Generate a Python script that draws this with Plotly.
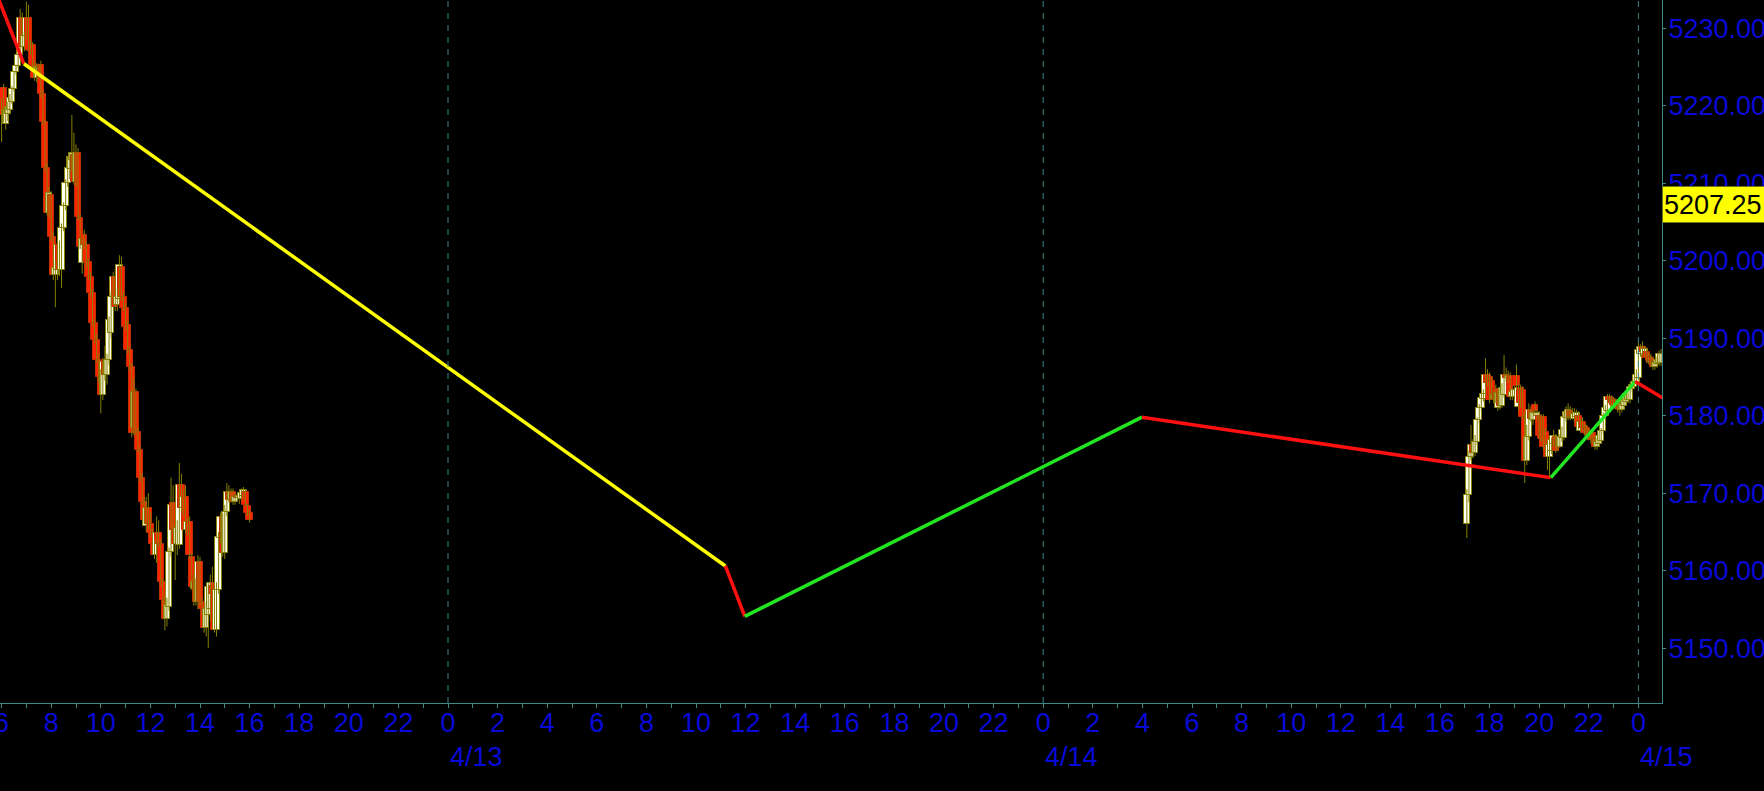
import numpy as np
import pandas as pd
import plotly.graph_objects as go

# ---------------- Friday 4/12 session (5-min bars, 06:00 - 16:00) ----------------
fri_open = [5219.8, 5222.3, 5217.6, 5218.9, 5219.4, 5220.5, 5222.1, 5224.3, 5225.1, 5226.5,
            5231.3, 5227.6, 5229.0, 5231.3, 5227.2, 5227.8, 5225.2, 5223.6, 5224.2, 5225.2,
            5221.5, 5217.9, 5212.0, 5206.2, 5208.5, 5203.0, 5198.1, 5198.8, 5202.0, 5198.8,
            5204.2, 5207.0, 5210.0, 5211.8, 5213.0, 5213.6, 5210.1, 5213.9, 5205.5, 5199.7,
            5203.3, 5202.0, 5199.8, 5197.9, 5195.8, 5192.0, 5189.8, 5187.2, 5185.0, 5182.6,
            5186.9, 5185.2, 5187.2, 5190.6, 5195.3, 5197.9, 5194.3, 5195.0, 5199.2, 5195.3,
            5193.9, 5191.7, 5188.5, 5186.3, 5178.4, 5183.0, 5177.9, 5175.6, 5172.0, 5168.9,
            5165.8, 5168.1, 5166.0, 5164.8, 5163.4, 5162.0, 5164.8, 5163.5, 5158.5, 5156.2,
            5153.7, 5155.3, 5162.4, 5168.7, 5165.4, 5163.5, 5163.3, 5171.0, 5168.1, 5169.5,
            5165.2, 5166.3, 5161.8, 5157.6, 5158.5, 5155.9, 5161.1, 5156.0, 5155.0, 5152.6,
            5154.3, 5155.0, 5158.0, 5158.4, 5152.3, 5157.5, 5164.2, 5166.9, 5162.3, 5167.6,
            5170.2, 5169.1, 5170.2, 5168.9, 5169.6, 5169.4, 5169.3, 5169.6, 5170.2, 5168.3,
            5167.4]
fri_high = [5221.0, 5222.8, 5219.8, 5220.5, 5221.5, 5222.5, 5224.5, 5225.3, 5226.8, 5232.5,
            5232.0, 5229.5, 5233.4, 5233.0, 5228.5, 5228.2, 5225.8, 5225.5, 5225.4, 5225.8,
            5222.0, 5218.2, 5212.6, 5209.5, 5209.0, 5203.8, 5200.0, 5202.5, 5202.6, 5204.8,
            5207.5, 5210.5, 5213.5, 5214.0, 5218.8, 5216.5, 5215.0, 5214.5, 5206.0, 5203.0,
            5204.0, 5202.5, 5200.3, 5198.5, 5196.3, 5192.5, 5190.5, 5188.0, 5186.0, 5187.5,
            5189.0, 5188.0, 5192.8, 5196.0, 5198.5, 5199.0, 5196.5, 5200.7, 5200.5, 5196.0,
            5194.5, 5192.3, 5189.0, 5186.8, 5184.8, 5183.5, 5178.5, 5176.0, 5172.6, 5169.5,
            5169.5, 5170.0, 5167.5, 5165.5, 5164.0, 5167.0, 5166.5, 5164.0, 5159.0, 5156.8,
            5156.5, 5163.0, 5172.0, 5171.0, 5166.0, 5166.5, 5173.9, 5172.5, 5170.5, 5171.0,
            5166.8, 5167.0, 5162.3, 5159.5, 5159.0, 5162.0, 5161.8, 5156.5, 5155.5, 5156.0,
            5158.5, 5159.5, 5160.5, 5159.0, 5158.5, 5165.0, 5167.5, 5167.5, 5168.5, 5171.3,
            5171.0, 5170.6, 5170.6, 5170.0, 5170.0, 5169.8, 5170.6, 5170.8, 5170.5, 5168.6,
            5167.8]
fri_low = [5215.3, 5217.8, 5216.9, 5218.0, 5219.0, 5220.2, 5221.8, 5224.0, 5224.8, 5226.0,
           5227.3, 5227.0, 5228.5, 5227.0, 5226.5, 5224.8, 5223.2, 5223.0, 5223.4, 5221.0,
           5217.5, 5211.5, 5205.8, 5205.5, 5202.5, 5197.5, 5194.0, 5197.5, 5198.0, 5196.5,
           5203.8, 5206.5, 5209.5, 5210.5, 5211.5, 5209.8, 5209.5, 5205.2, 5201.5, 5198.3,
           5201.5, 5199.0, 5197.5, 5195.2, 5191.5, 5189.3, 5186.8, 5184.2, 5180.3, 5182.0,
           5184.5, 5184.0, 5186.5, 5190.0, 5194.8, 5193.5, 5193.5, 5194.5, 5194.8, 5193.5,
           5191.0, 5188.0, 5185.8, 5177.2, 5177.5, 5177.5, 5175.2, 5171.5, 5168.5, 5166.0,
           5165.0, 5165.3, 5164.3, 5162.8, 5161.5, 5161.0, 5163.0, 5158.0, 5155.8, 5152.3,
           5152.8, 5154.8, 5161.8, 5164.8, 5158.8, 5162.0, 5162.8, 5167.5, 5167.0, 5164.8,
           5164.5, 5161.5, 5157.5, 5155.5, 5155.5, 5155.0, 5155.5, 5154.5, 5152.0, 5151.5,
           5150.0, 5153.5, 5156.0, 5152.0, 5151.5, 5157.0, 5163.5, 5161.8, 5161.5, 5167.0,
           5168.8, 5168.8, 5168.5, 5168.5, 5169.0, 5168.6, 5169.0, 5169.2, 5168.3, 5167.0,
           5166.2]
fri_close = [5220.4, 5218.8, 5219.4, 5219.8, 5221.0, 5222.1, 5224.3, 5225.1, 5226.5, 5231.3,
             5227.6, 5229.0, 5231.3, 5227.2, 5227.0, 5225.2, 5223.6, 5225.0, 5224.8, 5221.5,
             5217.9, 5212.0, 5206.2, 5208.7, 5203.0, 5198.1, 5199.0, 5202.0, 5198.8, 5204.2,
             5207.0, 5210.0, 5212.0, 5213.4, 5213.9, 5210.1, 5213.9, 5205.6, 5201.8, 5202.8,
             5202.0, 5199.8, 5197.9, 5195.8, 5192.0, 5189.8, 5187.2, 5185.0, 5182.6, 5186.9,
             5185.2, 5187.2, 5192.3, 5195.3, 5197.9, 5194.0, 5195.3, 5199.4, 5195.3, 5193.9,
             5191.4, 5188.5, 5186.3, 5177.7, 5183.0, 5177.9, 5175.6, 5172.0, 5168.9, 5166.5,
             5168.1, 5166.0, 5164.8, 5163.4, 5162.0, 5164.8, 5163.5, 5158.5, 5156.2, 5153.7,
             5155.6, 5162.4, 5168.5, 5165.2, 5163.5, 5165.5, 5171.0, 5168.1, 5169.5, 5165.2,
             5166.3, 5162.0, 5157.9, 5158.5, 5156.0, 5161.1, 5156.0, 5155.0, 5152.6, 5155.1,
             5157.9, 5158.4, 5157.0, 5152.3, 5157.5, 5164.3, 5166.9, 5162.3, 5167.6, 5170.2,
             5169.1, 5170.2, 5168.9, 5169.5, 5169.4, 5169.6, 5170.0, 5170.4, 5168.5, 5167.4,
             5166.5]

# ---------------- Sunday 4/14 evening session (5-min bars, 17:05 - 00:55) ----------------
sun_open = [5166.0, 5169.8, 5174.7, 5176.2, 5175.2, 5176.6, 5179.4, 5181.0, 5182.2, 5182.8,
            5185.3, 5185.0, 5184.5, 5182.2, 5183.5, 5181.0, 5182.9, 5181.3, 5182.7, 5185.3,
            5184.8, 5185.1, 5182.4, 5182.4, 5185.1, 5181.1, 5183.6, 5183.3, 5179.8, 5174.2,
            5177.2, 5180.7, 5179.5, 5181.4, 5179.9, 5180.0, 5179.6, 5179.8, 5177.9, 5176.0,
            5174.7, 5175.5, 5176.4, 5177.2, 5176.8, 5176.0, 5177.1, 5177.1, 5179.7, 5179.7,
            5180.6, 5180.3, 5179.6, 5179.8, 5180.0, 5178.0, 5179.2, 5178.6, 5178.4, 5178.0,
            5177.6, 5177.7, 5177.0, 5176.0, 5176.4, 5176.7, 5178.0, 5180.0, 5180.6, 5182.4,
            5182.2, 5182.0, 5181.8, 5181.6, 5181.6, 5180.7, 5181.2, 5181.8, 5182.0, 5182.0,
            5183.4, 5183.7, 5184.4, 5184.9, 5188.0, 5188.8, 5188.0, 5188.2, 5187.6, 5187.5,
            5187.1, 5186.3, 5186.6, 5186.8, 5186.8]
sun_high = [5170.5, 5175.5, 5178.8, 5177.0, 5177.5, 5179.8, 5181.5, 5182.8, 5183.4, 5187.4,
            5186.0, 5185.6, 5185.0, 5183.2, 5184.0, 5183.4, 5183.6, 5184.2, 5187.8, 5186.2,
            5185.8, 5185.6, 5183.6, 5183.8, 5186.6, 5184.2, 5184.0, 5183.8, 5180.3, 5178.8,
            5181.6, 5181.2, 5180.8, 5181.8, 5180.8, 5180.6, 5180.2, 5180.2, 5178.4, 5176.5,
            5176.6, 5177.2, 5178.2, 5177.6, 5177.2, 5177.6, 5178.6, 5180.5, 5181.2, 5181.6,
            5181.2, 5181.0, 5181.0, 5180.8, 5180.6, 5179.6, 5179.8, 5179.0, 5178.8, 5178.4,
            5178.0, 5178.2, 5177.4, 5177.2, 5178.0, 5178.4, 5180.4, 5181.4, 5182.8, 5182.8,
            5182.6, 5182.4, 5182.2, 5182.0, 5182.0, 5182.0, 5182.4, 5183.2, 5183.0, 5184.2,
            5184.6, 5185.0, 5186.0, 5189.4, 5189.2, 5189.6, 5189.0, 5188.8, 5188.2, 5188.0,
            5187.6, 5187.2, 5187.6, 5188.4, 5188.6]
sun_low = [5164.2, 5168.8, 5174.2, 5174.5, 5174.8, 5176.2, 5179.0, 5180.6, 5181.8, 5182.4,
           5183.8, 5181.6, 5182.0, 5181.6, 5181.6, 5180.6, 5180.8, 5181.0, 5182.3, 5184.4,
           5184.2, 5182.0, 5182.0, 5182.0, 5183.2, 5180.6, 5181.0, 5179.5, 5171.3, 5173.6,
           5176.8, 5179.2, 5178.8, 5180.0, 5179.4, 5177.0, 5176.6, 5175.6, 5175.8, 5173.0,
           5172.0, 5175.0, 5176.0, 5175.2, 5175.4, 5175.8, 5176.6, 5176.8, 5179.2, 5179.4,
           5179.4, 5179.5, 5179.2, 5179.4, 5178.2, 5177.8, 5178.0, 5177.4, 5177.2, 5176.8,
           5176.4, 5176.4, 5175.6, 5175.6, 5176.0, 5176.4, 5177.6, 5179.6, 5180.2, 5181.6,
           5181.2, 5181.0, 5180.8, 5180.4, 5180.0, 5180.4, 5180.8, 5181.4, 5181.6, 5181.6,
           5183.0, 5183.4, 5184.0, 5184.6, 5187.6, 5187.8, 5187.6, 5186.8, 5186.6, 5186.4,
           5185.9, 5185.9, 5186.2, 5186.4, 5186.4]
sun_close = [5169.8, 5174.7, 5176.2, 5175.2, 5176.6, 5179.4, 5181.0, 5182.3, 5182.8, 5185.3,
             5184.2, 5182.0, 5182.5, 5182.7, 5182.0, 5182.9, 5181.3, 5183.6, 5185.3, 5184.8,
             5185.1, 5182.4, 5183.1, 5183.3, 5183.8, 5183.6, 5181.6, 5179.8, 5174.2, 5177.2,
             5180.7, 5179.6, 5180.3, 5180.6, 5180.3, 5177.4, 5177.0, 5176.0, 5176.2, 5174.7,
             5176.2, 5176.8, 5177.4, 5175.5, 5176.0, 5177.2, 5178.2, 5179.8, 5180.5, 5180.7,
             5179.8, 5179.8, 5180.2, 5180.3, 5178.5, 5179.2, 5178.4, 5177.8, 5177.6, 5177.2,
             5176.8, 5176.8, 5176.0, 5176.6, 5177.4, 5178.0, 5180.0, 5181.0, 5182.4, 5182.0,
             5181.6, 5181.4, 5181.2, 5180.8, 5180.7, 5181.6, 5182.0, 5182.8, 5182.6, 5183.7,
             5184.0, 5184.4, 5185.2, 5188.5, 5188.8, 5188.2, 5188.6, 5187.4, 5187.0, 5186.8,
             5186.3, 5186.8, 5187.2, 5188.0, 5188.0]

fri_times = pd.date_range("2024-04-12 06:00", periods=len(fri_open), freq="5min")
sun_times = pd.date_range("2024-04-14 17:05", periods=len(sun_open), freq="5min")

# ---------------- Zigzag overlay ----------------
zz_times = ["2024-04-12 05:45", "2024-04-12 06:54", "2024-04-13 11:11", "2024-04-13 11:58",
            "2024-04-14 03:59", "2024-04-14 20:28", "2024-04-14 23:52", "2024-04-15 01:30"]
zz_prices = [5234.8, 5225.4, 5160.6, 5154.1, 5179.8, 5172.0, 5184.4, 5181.3]
zz_colors = ["#ff1010", "#ffff00", "#ff1010", "#22e622", "#ff1010", "#22e622", "#ff1010"]

last_price = 5207.25
day_labels = ["4/13", "4/14", "4/15"]
day_starts = ["2024-04-13 00:00", "2024-04-14 00:00", "2024-04-15 00:00"]
tick_times = pd.date_range("2024-04-12 06:00", "2024-04-15 00:00", freq="2h")
tick_text = [str(t.hour) for t in tick_times]

x_range = ["2024-04-12 05:56:08", "2024-04-15 00:57:06"]
y_range = [5142.92, 5233.63]

BLUE = "#0a0ad8"
AXC = "#3a8888"
FONT = "Liberation Sans, Arial, sans-serif"
FS = 27

times = list(fri_times) + list(sun_times)
o = np.array(fri_open + sun_open)
h = np.array(fri_high + sun_high)
l = np.array(fri_low + sun_low)
c = np.array(fri_close + sun_close)
up = c >= o

fig = go.Figure()

# wicks
wx, wy = [], []
for t, hi, lo in zip(times, h, l):
    wx += [t, t, None]
    wy += [lo, hi, None]
fig.add_trace(go.Scatter(x=wx, y=wy, mode="lines", line=dict(color="#858000", width=1),
                         hoverinfo="skip", showlegend=False))

# bodies
body_base = np.minimum(o, c)
body_h = np.maximum(np.abs(c - o), 0.2)
fig.add_trace(go.Bar(x=times, y=body_h, base=body_base, width=930000,
                     marker=dict(color=np.where(up, "#fffff2", "#ff2200"),
                                 line=dict(color=np.where(up, "#8a8400", "#c03000"), width=1)),
                     showlegend=False, hoverinfo="skip"))

# zigzag segments
for i, col in enumerate(zz_colors):
    fig.add_trace(go.Scatter(x=zz_times[i:i + 2], y=zz_prices[i:i + 2], mode="lines",
                             line=dict(color=col, width=3.5), showlegend=False, hoverinfo="skip"))

shapes = [dict(type="line", xref="x", yref="paper", x0=d, x1=d, y0=0, y1=1,
               line=dict(color=AXC, width=1, dash="6px,6px")) for d in day_starts]

annotations = [dict(x=d, y=-0.077, xref="x", yref="paper", text=lab, showarrow=False,
                    xanchor="left", yanchor="middle", font=dict(family=FONT, size=FS, color=BLUE))
               for d, lab in zip(day_starts, day_labels)]
annotations.append(dict(x=1.0, y=last_price, xref="paper", yref="y", text="5207.25",
                        showarrow=False, xanchor="left", yanchor="middle", align="left",
                        width=112, height=33,
                        bgcolor="#ffff00", bordercolor="#6a7a20", borderwidth=1, borderpad=1,
                        font=dict(family=FONT, size=FS, color="#000000")))

fig.update_layout(
    width=1764, height=791,
    paper_bgcolor="#000000", plot_bgcolor="#000000",
    margin=dict(l=0, r=102, t=0, b=88, autoexpand=False),
    bargap=0,
    shapes=shapes, annotations=annotations,
    xaxis=dict(type="date", range=x_range, tickvals=list(tick_times), ticktext=tick_text,
               automargin=False,
               showgrid=False, zeroline=False, showline=True, linecolor=AXC, linewidth=1,
               ticks="outside", ticklen=4, tickcolor=AXC, ticklabeloverflow="allow",
               ticklabelstandoff=-8,
               minor=dict(dtick=3600000, ticks="outside", ticklen=4, tickcolor=AXC, showgrid=False),
               tickfont=dict(family=FONT, size=FS, color=BLUE), tickangle=0),
    yaxis=dict(range=y_range, side="right", tick0=5150, dtick=10, tickformat=".2f",
               automargin=False,
               showgrid=False, zeroline=False, showline=True, linecolor=AXC, linewidth=1,
               ticks="outside", ticklen=3, tickcolor=AXC, ticklabeloverflow="allow",
               ticklabelstandoff=-3,
               tickfont=dict(family=FONT, size=FS, color=BLUE)),
)

fig.write_html("out.html", config={"displayModeBar": False},
               post_script="document.body.style.margin='0';document.body.style.padding='0';"
                           "document.body.style.background='#000';"
                           "document.documentElement.style.background='#000';")
